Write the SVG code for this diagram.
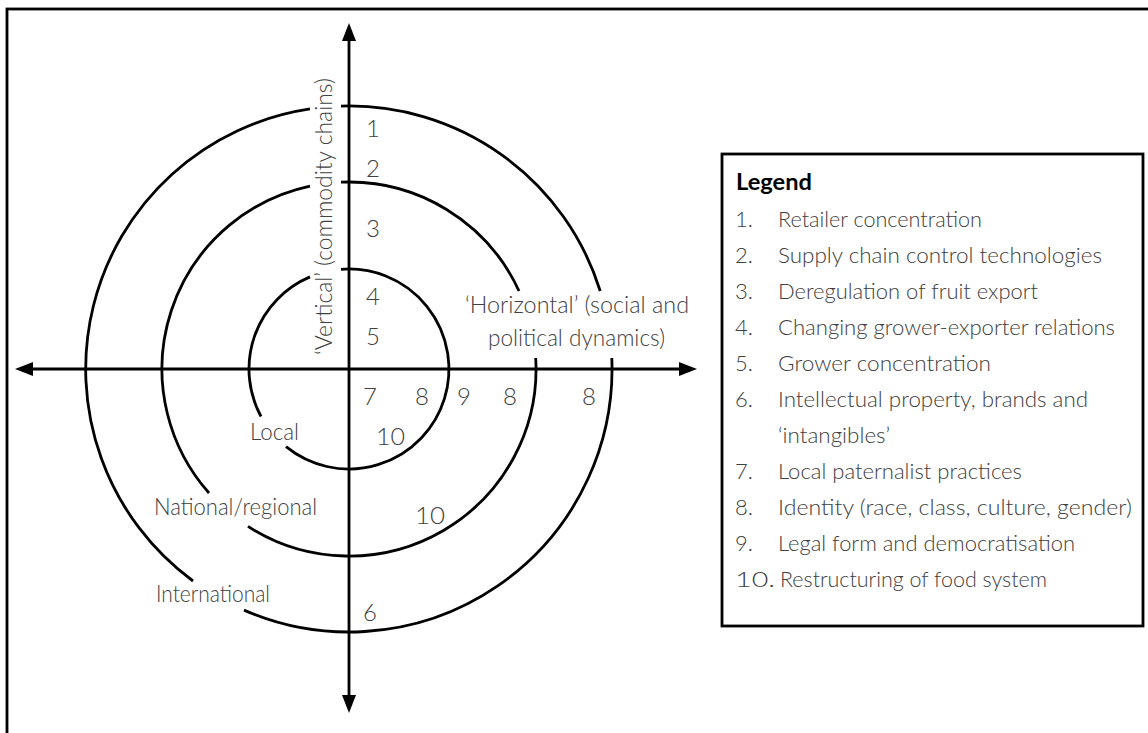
<svg xmlns="http://www.w3.org/2000/svg" width="1148" height="733" viewBox="0 0 1148 733">
<style>
.ln{fill:none;stroke:#000;stroke-width:2.8}
.ax{fill:none;stroke:#000;stroke-width:2.8;marker-start:url(#ah);marker-end:url(#ah)}
.t{font-family:Lato,"Open Sans","Liberation Sans",sans-serif;font-weight:300;fill:#404040}
.lab{font-size:23px}
.num{font-size:24px}
.leg{font-size:22px}
.title{font-family:Lato,"Open Sans","Liberation Sans",sans-serif;font-weight:700;font-size:22px;fill:#000}
</style>
<defs>
<marker id="ah" viewBox="0 0 18 14" refX="0" refY="7" markerWidth="18" markerHeight="14" markerUnits="userSpaceOnUse" orient="auto-start-reverse">
<path d="M0,0 L18,7 L0,14 z" fill="#000"/>
</marker>
</defs>
<rect x="0" y="0" width="1148" height="733" fill="#fff"/>
<rect id="frame" x="7" y="9" width="1160" height="760" class="ln"/>

<g id="circles">
<g id="outer">
<path class="ln" d="M341,106.1 A263,263 0 0 1 600.2,291"/>
<path class="ln" d="M611.8,358 A263,263 0 0 1 244,610.1"/>
<path class="ln" d="M193,581 A263,263 0 0 1 310,108.9"/>
</g>
<g id="middle">
<path class="ln" d="M341,182.2 A187,187 0 0 1 519,291"/>
<path class="ln" d="M535.7,358 A187,187 0 0 1 248,526.4"/>
<path class="ln" d="M209,493 A187,187 0 0 1 310,186.1"/>
</g>
<g id="inner">
<path class="ln" d="M341,269.3 A100,100 0 1 1 286,446.7"/>
<path class="ln" d="M261,416.5 A100,100 0 0 1 310,276.9"/>
</g>
</g>

<g id="connectors">
<line class="ax" x1="33" y1="369" x2="679" y2="369"/>
<line class="ax" x1="349" y1="41" x2="349" y2="695"/>
</g>

<g id="axis-labels">
<text class="t lab" transform="translate(332,355) rotate(-90)" textLength="277" lengthAdjust="spacingAndGlyphs">‘Vertical’ (commodity chains)</text>
<text class="t lab" x="465" y="313" textLength="224" lengthAdjust="spacingAndGlyphs">‘Horizontal’ (social and</text>
<text class="t lab" x="488" y="346" textLength="177" lengthAdjust="spacingAndGlyphs">political dynamics)</text>
</g>

<g id="level-labels">
<text class="t lab" x="250" y="440" textLength="49" lengthAdjust="spacingAndGlyphs">Local</text>
<text class="t lab" x="154" y="515" textLength="163" lengthAdjust="spacingAndGlyphs">National/regional</text>
<text class="t lab" x="156" y="602" textLength="114" lengthAdjust="spacingAndGlyphs">International</text>
</g>

<g id="numbers" class="t num">
<text x="366" y="137">1</text>
<text x="366" y="177">2</text>
<text x="366" y="237">3</text>
<text x="366" y="305">4</text>
<text x="366" y="345">5</text>
<text x="363" y="405">7</text>
<text x="415" y="405">8</text>
<text x="457" y="405">9</text>
<text x="503" y="405">8</text>
<text x="582" y="405">8</text>
<text x="376" y="445" textLength="29" lengthAdjust="spacingAndGlyphs">10</text>
<text x="415" y="524" textLength="30" lengthAdjust="spacingAndGlyphs">10</text>
<text x="363" y="621">6</text>
</g>

<g id="legend">
<rect x="722" y="154" width="421" height="472" class="ln"/>
<text class="title" x="736" y="190" textLength="76" lengthAdjust="spacingAndGlyphs">Legend</text>
<g class="t leg">
<text x="735" y="227">1.</text><text x="778" y="227" textLength="204" lengthAdjust="spacingAndGlyphs">Retailer concentration</text>
<text x="735" y="263">2.</text><text x="778" y="263" textLength="324" lengthAdjust="spacingAndGlyphs">Supply chain control technologies</text>
<text x="735" y="299">3.</text><text x="778" y="299" textLength="260" lengthAdjust="spacingAndGlyphs">Deregulation of fruit export</text>
<text x="735" y="335">4.</text><text x="778" y="335" textLength="337" lengthAdjust="spacingAndGlyphs">Changing grower-exporter relations</text>
<text x="735" y="371">5.</text><text x="778" y="371" textLength="213" lengthAdjust="spacingAndGlyphs">Grower concentration</text>
<text x="735" y="407">6.</text><text x="778" y="407" textLength="310" lengthAdjust="spacingAndGlyphs">Intellectual property, brands and</text>
<text x="778" y="443" textLength="112" lengthAdjust="spacingAndGlyphs">‘intangibles’</text>
<text x="735" y="479">7.</text><text x="778" y="479" textLength="244" lengthAdjust="spacingAndGlyphs">Local paternalist practices</text>
<text x="735" y="515">8.</text><text x="778" y="515" textLength="354" lengthAdjust="spacingAndGlyphs">Identity (race, class, culture, gender)</text>
<text x="735" y="551">9.</text><text x="778" y="551" textLength="297" lengthAdjust="spacingAndGlyphs">Legal form and democratisation</text>
<text x="735" y="587" textLength="40" lengthAdjust="spacingAndGlyphs">10.</text><text x="780" y="587" textLength="267" lengthAdjust="spacingAndGlyphs">Restructuring of food system</text>
</g>
</g>
</svg>
